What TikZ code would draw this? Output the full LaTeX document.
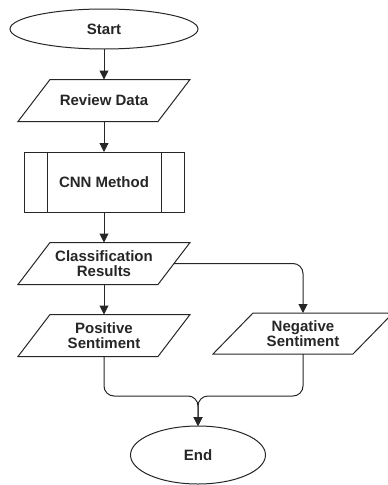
\documentclass[tikz,border=0pt]{standalone}
\usepackage{fontspec}
\setmainfont{Liberation Sans}
\usetikzlibrary{shapes.geometric,arrows.meta}
\newcommand\paraout[2]{\draw[line] ([xshift=#2pt]#1.north west) -- ([xshift=#2pt]#1.north east) -- ([xshift=-#2pt]#1.south east) -- ([xshift=-#2pt]#1.south west) -- cycle;}
\begin{document}
\begin{tikzpicture}[x=1pt,y=-1pt,
  every node/.style={font=\bfseries\fontsize{15}{14.5}\selectfont, text=black!85, align=center, inner sep=0pt, outer sep=0pt},
  line/.style={draw=black!85, line width=1pt},
  arr/.style={line, -{Triangle[length=9pt,width=9pt]}},
  term/.style={ellipse, line, fill=white},
  io/.style={rectangle, minimum width=140pt, minimum height=42pt},
  proc/.style={rectangle, line, fill=white, minimum width=160pt, minimum height=60pt}]
\useasboundingbox (0,0) rectangle (388,485);
\node[term, minimum width=188pt, minimum height=40pt] (start) at (104,29) {Start};
\node[io] (review) at (104,100.5) {Review Data};
\paraout{review}{16}
\node[proc] (cnn) at (104,182) {CNN Method};
\draw[line] ([xshift=23pt]cnn.north west) -- ([xshift=23pt]cnn.south west);
\draw[line] ([xshift=-23pt]cnn.north east) -- ([xshift=-23pt]cnn.south east);
\node[io] (cls) at (104,263.5) {Classification\\Results};
\paraout{cls}{16}
\node[io] (pos) at (104,335.5) {Positive\\Sentiment};
\paraout{pos}{16}
\node[io, minimum height=41pt] (neg) at (303,333.5) {Negative\\Sentiment};
\paraout{neg}{20}
\node[term, minimum width=135pt, minimum height=58pt] (end) at (198,455) {End};
\coordinate (j) at (198,396);
\draw[arr] (start.south) -- (review.north);
\draw[arr] (review.south) -- (cnn.north);
\draw[arr] (cnn.south) -- (cls.north);
\draw[arr] (cls.south) -- (pos.north);
\draw[arr, rounded corners=10pt] (cls.east) -| (neg.north);
\draw[arr, rounded corners=10pt] (pos.south) |- (j) -- (end.north);
\draw[arr, rounded corners=10pt] (neg.south) |- (j) -- (end.north);
\end{tikzpicture}
\end{document}
